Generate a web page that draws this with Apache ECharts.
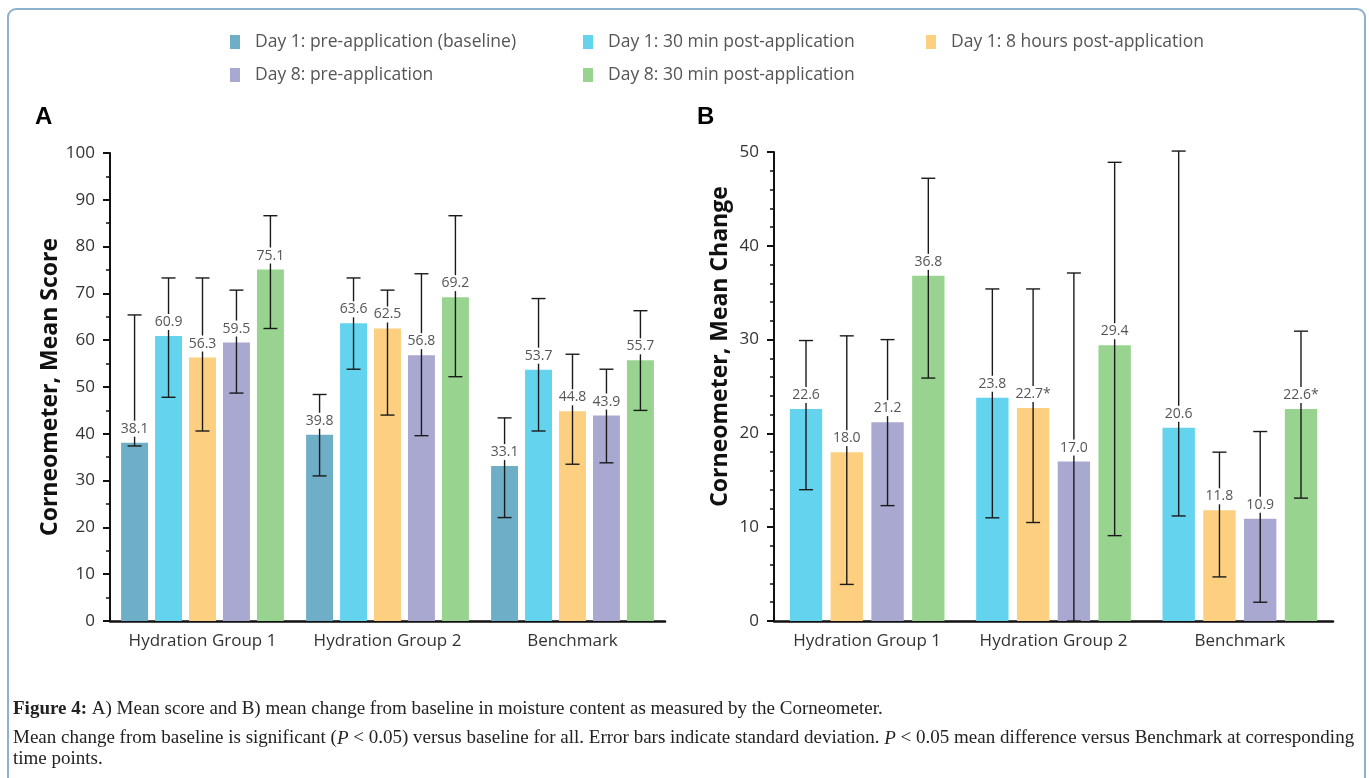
<!DOCTYPE html>
<html>
<head>
<meta charset="utf-8">
<script src="https://cdn.jsdelivr.net/npm/echarts@6/dist/echarts.min.js"></script>
<style>
html,body{margin:0;padding:0;background:#fff;}
#chart{width:1369px;height:778px;}
</style>
</head>
<body>
<div id="chart"></div>
<script>
// ---------- data ----------
const categories = ['Hydration Group 1', 'Hydration Group 2', 'Benchmark'];
const seriesNames = [
  'Day 1: pre-application (baseline)',
  'Day 1: 30 min post-application',
  'Day 1: 8 hours post-application',
  'Day 8: pre-application',
  'Day 8: 30 min post-application'
];
const colors = ['#6FAEC7', '#63D3EE', '#FCD080', '#A9A8D1', '#98D48F'];

// Panel A: mean score
const aBaseline = [38.1, 39.8, 33.1];
const a30min    = [60.9, 63.6, 53.7];
const a8h       = [56.3, 62.5, 44.8];
const aD8pre    = [59.5, 56.8, 43.9];
const aD8post   = [75.1, 69.2, 55.7];
// error bar ends [low, high]
const aBaselineErr = [[37.4, 65.4], [31.0, 48.4], [22.1, 43.4]];
const a30minErr    = [[47.8, 73.3], [53.8, 73.3], [40.6, 68.9]];
const a8hErr       = [[40.6, 73.3], [44.0, 70.7], [33.5, 57.0]];
const aD8preErr    = [[48.7, 70.7], [39.6, 74.2], [33.8, 53.8]];
const aD8postErr   = [[62.5, 86.6], [52.2, 86.6], [45.0, 66.3]];

// Panel B: mean change from baseline
const b30min  = [22.6, 23.8, 20.6];
const b8h     = [18.0, 22.7, 11.8];
const bD8pre  = [21.2, 17.0, 10.9];
const bD8post = [36.8, 29.4, 22.6];
const b30minErr  = [[14.0, 29.9], [11.0, 35.4], [11.2, 50.1]];
const b8hErr     = [[3.9, 30.4], [10.5, 35.4], [4.7, 18.0]];
const bD8preErr  = [[12.3, 30.0], [0.0, 37.1], [2.0, 20.2]];
const bD8postErr = [[25.9, 47.2], [9.1, 48.9], [13.1, 30.9]];
// significance markers (asterisk)
const b30minSig  = ['', '', ''];
const b8hSig     = ['', '*', ''];
const bD8preSig  = ['', '', ''];
const bD8postSig = ['', '', '*'];

const aTicks = [0,10,20,30,40,50,60,70,80,90,100];
const bTicks = [0,10,20,30,40,50];

// ---------- helpers ----------
const FONT = 'Open Sans';
const GAP = 0.26;      // barGap
const CAT_GAP_A = 0.12;
const CAT_GAP_B = 0.17;

function barSeries(name, data, colorIdx, xi, yi, catGap) {
  return {
    name: name, type: 'bar', xAxisIndex: xi, yAxisIndex: yi,
    data: data, barGap: (GAP*100)+'%', barCategoryGap: (catGap*100)+'%',
    itemStyle: { color: colors[colorIdx] },
    z: 2, label: { show: false }
  };
}

function errSeries(name, values, errs, sig, idx, n, xi, yi, catGap) {
  const data = values.map((v, i) => [i, v, errs[i][0], errs[i][1], sig ? sig[i] : '']);
  return {
    name: name, type: 'custom', xAxisIndex: xi, yAxisIndex: yi, z: 5,
    data: data, silent: true,
    encode: { x: 0, y: [1, 2, 3] },
    renderItem: function (params, api) {
      const ci = api.value(0);
      const v = api.value(1), lo = api.value(2), hi = api.value(3);
      const band = api.size([1, 0])[0];
      const avail = band * (1 - catGap);
      const bw = avail / (n + (n - 1) * GAP);
      const base = api.coord([ci, v]);
      const cx = base[0] - avail / 2 + bw / 2 + idx * bw * (1 + GAP);
      const yTop = api.coord([ci, hi])[1];
      const yLo = api.coord([ci, lo])[1];
      const yV = base[1];
      const cap = 7;
      const ls = { stroke: '#1a1a1a', lineWidth: 1.4 };
      const s = data[params.dataIndex][4];
      return {
        type: 'group',
        children: [
          { type: 'line', shape: { x1: cx, y1: yTop, x2: cx, y2: yLo }, style: ls },
          { type: 'line', shape: { x1: cx - cap, y1: yTop, x2: cx + cap, y2: yTop }, style: ls },
          { type: 'line', shape: { x1: cx - cap, y1: yLo, x2: cx + cap, y2: yLo }, style: ls },
          { type: 'text', x: cx, y: yV - 6, z2: 10,
            style: { text: v.toFixed(1) + s, fill: '#555', font: '14px "' + FONT + '"',
                     align: 'center', verticalAlign: 'bottom',
                     backgroundColor: '#fff', padding: [1, 1, 1, 1] } }
        ]
      };
    }
  };
}

// ---------- series ----------
const series = [];
const aVals = [aBaseline, a30min, a8h, aD8pre, aD8post];
const aErrs = [aBaselineErr, a30minErr, a8hErr, aD8preErr, aD8postErr];
aVals.forEach((d, i) => series.push(barSeries(seriesNames[i], d, i, 0, 0, CAT_GAP_A)));
aVals.forEach((d, i) => series.push(errSeries(seriesNames[i], d, aErrs[i], null, i, 5, 0, 0, CAT_GAP_A)));

const bVals = [b30min, b8h, bD8pre, bD8post];
const bErrs = [b30minErr, b8hErr, bD8preErr, bD8postErr];
const bSigs = [b30minSig, b8hSig, bD8preSig, bD8postSig];
bVals.forEach((d, i) => series.push(barSeries(seriesNames[i + 1], d, i + 1, 1, 1, CAT_GAP_B)));
bVals.forEach((d, i) => series.push(errSeries(seriesNames[i + 1], d, bErrs[i], bSigs[i], i, 4, 1, 1, CAT_GAP_B)));

// ---------- legends (grid layout) ----------
const legendPos = [[230, 33], [583, 33], [926, 33], [230, 66], [583, 66]];
const legends = seriesNames.map((nm, i) => ({
  left: legendPos[i][0], top: legendPos[i][1], padding: 0,
  data: [{ name: nm, icon: 'rect', itemStyle: { color: colors[i] } }],
  itemWidth: 10, itemHeight: 14, itemGap: 0,
  selectedMode: false,
  textStyle: { fontFamily: FONT, fontSize: 17.5, color: '#555', padding: [0, 0, 0, 10] }
}));

function yAxis(gi, max, minorSplit, ticks, name, namePad) {
  return {
    type: 'value', gridIndex: gi, min: 0, max: max, interval: 10,
    name: name, nameLocation: 'middle', nameGap: 42, nameRotate: 90,
    nameTextStyle: { fontFamily: FONT, fontWeight: 'bold', fontSize: 23, color: '#111', padding: namePad },
    axisLine: { show: true, lineStyle: { color: '#111', width: 2 } },
    axisTick: { show: true, inside: false, length: 7, lineStyle: { color: '#111', width: 2 } },
    minorTick: { show: true, splitNumber: minorSplit, length: 4, lineStyle: { color: '#111', width: 1.5 } },
    splitLine: { show: false },
    axisLabel: { fontFamily: FONT, fontSize: 17, color: '#333', margin: 15,
      formatter: function (v) { return ticks.indexOf(v) >= 0 ? String(v) : ''; } }
  };
}
function xAxis(gi) {
  return {
    type: 'category', gridIndex: gi, data: categories,
    axisLine: { lineStyle: { color: '#111', width: 2.5 } },
    axisTick: { show: false },
    axisLabel: { fontFamily: FONT, fontSize: 17, color: '#333', margin: 12, interval: 0, hideOverlap: false }
  };
}

const option = {
  animation: false,
  backgroundColor: '#fff',
  graphic: [{
    type: 'rect', left: 7, top: 8, silent: true, z: -10,
    shape: { width: 1357, height: 800, r: 8 },
    style: { fill: '#fff', stroke: '#8DB0CF', lineWidth: 2 }
  }],
  title: [
    { text: 'A', left: 30, top: 100, textStyle: { fontFamily: 'Liberation Sans', fontWeight: 'bold', fontSize: 24, color: '#000' } },
    { text: 'B', left: 692, top: 100, textStyle: { fontFamily: 'Liberation Sans', fontWeight: 'bold', fontSize: 24, color: '#000' } },
    { text: '{b|Figure 4:} A) Mean score and B) mean change from baseline in moisture content as measured by the Corneometer.',
      left: 8, top: 695,
      textStyle: { fontFamily: 'Liberation Serif', fontSize: 19, fontWeight: 'normal', color: '#222',
        rich: { b: { fontFamily: 'Liberation Serif', fontSize: 19, fontWeight: 'bold', color: '#222' } } } },
    { text: 'Mean change from baseline is significant ({i|P} < 0.05) versus baseline for all. Error bars indicate standard deviation. {i|P} < 0.05 mean difference versus Benchmark at corresponding\ntime points.',
      left: 8, top: 723,
      textStyle: { fontFamily: 'Liberation Serif', fontSize: 19, fontWeight: 'normal', color: '#222', lineHeight: 21,
        rich: { i: { fontFamily: 'Liberation Serif', fontSize: 19, fontStyle: 'italic', color: '#222', lineHeight: 21 } } } }
  ],
  legend: legends,
  grid: [
    { left: 110, top: 153, width: 555, height: 468, containLabel: false },
    { left: 774, top: 152, width: 559, height: 469, containLabel: false }
  ],
  xAxis: [xAxis(0), xAxis(1)],
  yAxis: [
    yAxis(0, 100, 2, aTicks, 'Corneometer, Mean Score', [0, 0, 0, 0]),
    yAxis(1, 50, 5, bTicks, 'Corneometer, Mean Change', [0, 0, 0, 80])
  ],
  series: series
};

const chart = echarts.init(document.getElementById('chart'), null, { renderer: 'canvas' });
chart.setOption(option);
</script>
</body>
</html>
